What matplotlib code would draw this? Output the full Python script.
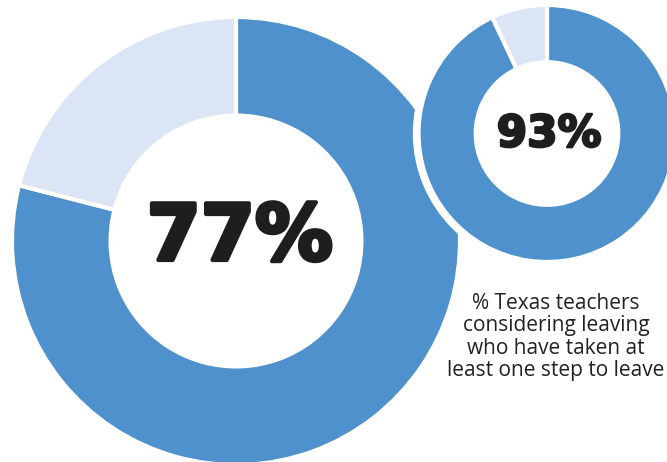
import matplotlib.pyplot as plt
import matplotlib.patheffects as pe
from matplotlib.patches import Circle

# data
big_values = [79, 21]
big_label = "77%"
small_values = [93, 7]
small_label = "93%"
colors = ["#4f91cd", "#dce5f5"]
caption = "% Texas teachers\nconsidering leaving\nwho have taken at\nleast one step to leave"

W, H = 667, 462
fig = plt.figure(figsize=(W / 100, H / 100), dpi=100)
ax = fig.add_axes([0, 0, 1, 1])

big_c, big_r = (236, H - 241), 224
small_c, small_r = (547, H - 133.5), 128.5

ax.pie(big_values, colors=colors, center=big_c, radius=big_r,
       startangle=90, counterclock=False,
       wedgeprops=dict(width=big_r * 0.44, edgecolor="white", linewidth=3))

# white halo separating the two donuts
ax.add_patch(Circle(small_c, small_r + 5, color="white", zorder=2))
wedges, _ = ax.pie(small_values, colors=colors, center=small_c, radius=small_r,
                   startangle=90, counterclock=False,
                   wedgeprops=dict(width=small_r * 0.445, edgecolor="white", linewidth=3))
for w in wedges:
    w.set_zorder(3)

# thicken the bold digits a little to look like a black weight
heavy = lambda lw: [pe.withStroke(linewidth=lw, foreground="#1f1d1e")]
ax.text(big_c[0] + 4, big_c[1] + 3, big_label, ha="center", va="center",
        fontsize=56, fontweight="bold", family="DejaVu Sans", color="#1f1d1e",
        path_effects=heavy(3), zorder=4)
ax.text(small_c[0] + 2, small_c[1] - 0.5, small_label, ha="center", va="center",
        fontsize=31.5, fontweight="bold", family="DejaVu Sans", color="#1f1d1e",
        path_effects=heavy(1.8), zorder=4)
ax.text(556, H - 337, caption, ha="center", va="center", fontsize=15,
        family="Open Sans", color="#222222", linespacing=1.08, zorder=4)

ax.set_xlim(0, W)
ax.set_ylim(0, H)
ax.set_aspect("equal")
ax.axis("off")

fig.savefig("out.png", dpi=100)
